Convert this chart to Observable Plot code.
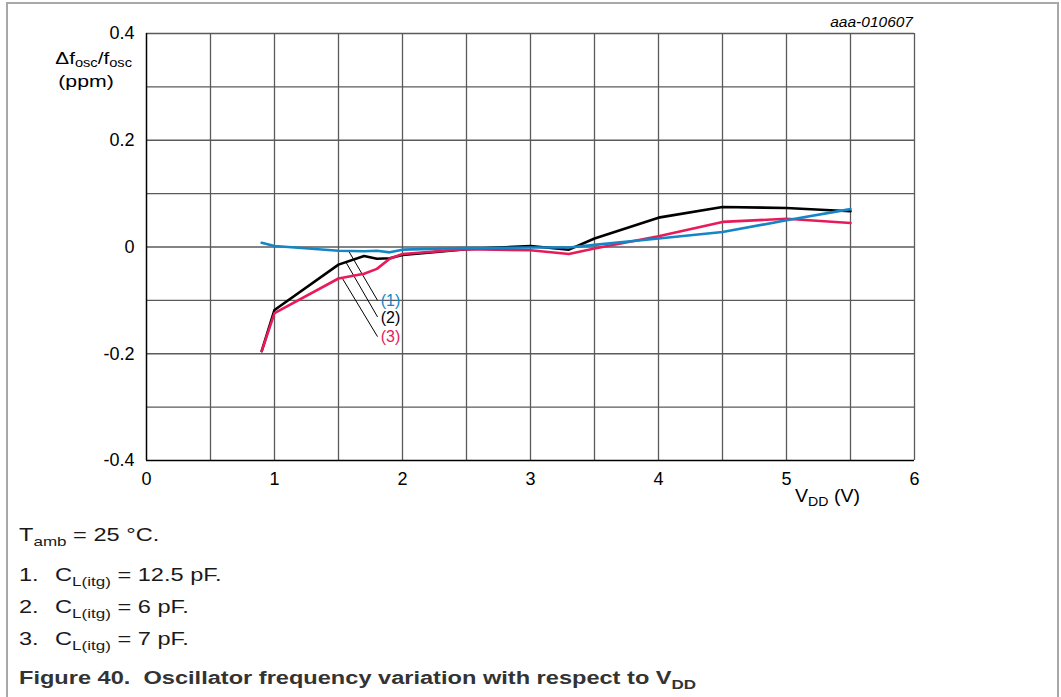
<!DOCTYPE html>
<html>
<head>
<meta charset="utf-8">
<script src="https://cdn.jsdelivr.net/npm/d3@7"></script>
<script src="https://cdn.jsdelivr.net/npm/@observablehq/plot@0.6"></script>
<style>
  html, body { margin: 0; padding: 0; background: #fff; overflow: hidden; }
  body { width: 1061px; height: 697px; position: relative; font-family: "Liberation Sans", Arial, sans-serif; }
  #frame { position: absolute; left: 6px; top: 2px; width: 1053px; height: 760px; border: 2px solid #a8a8a8; box-sizing: border-box; }
  #chart { position: absolute; left: 0; top: 0; }
  .note { position: absolute; left: 19px; font-size: 18px; line-height: 21px; color: #1a1a1a; white-space: pre; transform: scaleX(1.31); transform-origin: 0 0; }
  .note sub { font-size: 13px; vertical-align: -5px; line-height: 0; }
  .note .num { display: inline-block; width: 27.5px; }
  #caption { position: absolute; left: 19px; top: 668px; font-size: 18px; line-height: 21px; font-weight: bold; color: #333; white-space: pre; transform: scaleX(1.31); transform-origin: 0 0; }
  #caption sub { font-size: 13px; vertical-align: -5px; line-height: 0; }
</style>
</head>
<body>
<div id="frame"></div>
<div id="chart"></div>
<div class="note" style="top:525px">T<sub>amb</sub> = 25 °C.</div>
<div class="note" style="top:565px"><span class="num">1.</span>C<sub>L(itg)</sub> = 12.5 pF.</div>
<div class="note" style="top:597px"><span class="num">2.</span>C<sub>L(itg)</sub> = 6 pF.</div>
<div class="note" style="top:629px"><span class="num">3.</span>C<sub>L(itg)</sub> = 7 pF.</div>
<div id="caption">Figure 40.  Oscillator frequency variation with respect to V<sub>DD</sub></div>
<script>
// ---- data ----
const vdd1 = [0.9, 1.0, 1.5, 1.7, 1.8, 1.9, 2.0, 2.5, 3.0, 3.3, 3.5, 4.0, 4.5, 5.0, 5.5];
const dev1 = [0.008, 0.002, -0.007, -0.008, -0.007, -0.010, -0.005, -0.002, -0.001, -0.001, 0.004, 0.016, 0.028, 0.050, 0.071]; // (1) 12.5 pF
const vdd2 = [0.9, 1.0, 1.5, 1.7, 1.8, 1.9, 2.0, 2.5, 3.0, 3.3, 3.5, 4.0, 4.5, 5.0, 5.5];
const dev2 = [-0.195, -0.118, -0.033, -0.017, -0.022, -0.021, -0.015, -0.004, 0.002, -0.005, 0.016, 0.055, 0.075, 0.073, 0.067]; // (2) 6 pF
const vdd3 = [0.9, 1.0, 1.5, 1.7, 1.8, 1.9, 2.0, 2.5, 3.0, 3.3, 3.5, 4.0, 4.5, 5.0, 5.5];
const dev3 = [-0.195, -0.124, -0.059, -0.050, -0.041, -0.022, -0.013, -0.004, -0.006, -0.013, -0.003, 0.020, 0.047, 0.053, 0.045]; // (3) 7 pF

const xTicks = [0, 1, 2, 3, 4, 5, 6];
const yTicks = [-0.4, -0.2, 0, 0.2, 0.4];
const xGrid = [0.5, 1, 1.5, 2, 2.5, 3, 3.5, 4, 4.5, 5, 5.5, 6];
const yGrid = [-0.3, -0.2, -0.1, 0, 0.1, 0.2, 0.3, 0.4];

const seriesLabels = ["(1)", "(2)", "(3)"];
// leader lines: from curve point to label (data coordinates)
const leadX1 = [1.583, 1.557, 1.531];
const leadY1 = [-0.009, -0.028, -0.059];
const leadX2 = [1.805, 1.805, 1.805];
const leadY2 = [-0.100, -0.131, -0.168];
const labelX = [1.83, 1.83, 1.83];
const labelY = [-0.100, -0.133, -0.169];

const colors = ["#1486c6", "#000000", "#e81b5a"];

const toRows = (xs, ys) => xs.map((x, i) => ({x, y: ys[i]}));
const s1 = toRows(vdd1, dev1), s2 = toRows(vdd2, dev2), s3 = toRows(vdd3, dev3);
const leaders = leadX1.map((x, i) => ({x1: x, y1: leadY1[i], x2: leadX2[i], y2: leadY2[i]}));
const labels = seriesLabels.map((t, i) => ({t, x: labelX[i], y: labelY[i], c: colors[i]}));

const plot = Plot.plot({
  width: 1061,
  height: 520,
  marginLeft: 146,
  marginRight: 147,
  marginTop: 33,
  marginBottom: 60,
  style: {fontFamily: "'Liberation Sans', Arial, sans-serif", fontSize: "18px", color: "#000", background: "transparent", overflow: "visible"},
  x: {domain: [0, 6], label: null},
  y: {domain: [-0.4, 0.4], label: null},
  marks: [
    Plot.ruleX(xGrid, {stroke: "#5a5a5a", strokeWidth: 1.3}),
    Plot.ruleY(yGrid, {stroke: "#5a5a5a", strokeWidth: 1.3}),
    Plot.ruleX([0], {stroke: "#000", strokeWidth: 1.5}),
    Plot.ruleY([-0.4], {stroke: "#000", strokeWidth: 1.5}),
    Plot.link(leaders, {x1: "x1", y1: "y1", x2: "x2", y2: "y2", stroke: "#000", strokeWidth: 1}),
    Plot.line(s2, {x: "x", y: "y", stroke: colors[1], strokeWidth: 2.6}),
    Plot.line(s3, {x: "x", y: "y", stroke: colors[2], strokeWidth: 2.6}),
    Plot.line(s1, {x: "x", y: "y", stroke: colors[0], strokeWidth: 2.6}),
    Plot.text(labels, {x: "x", y: "y", text: "t", fill: "c", textAnchor: "start", fontSize: 16}),
    Plot.axisX({ticks: xTicks, tickSize: 0, tickPadding: 12, tickFormat: d => String(d), fontSize: 18}),
    Plot.axisY({ticks: yTicks, tickSize: 0, tickPadding: 12, tickFormat: d => String(d), fontSize: 18})
  ]
});
document.getElementById("chart").appendChild(plot);

const svg = d3.select(plot);
// y-axis label
const yl = svg.append("text").attr("transform", "translate(132,64) scale(1.22,1)").attr("text-anchor", "end")
  .attr("font-size", 17).attr("fill", "#000");
yl.append("tspan").text("Δf");
yl.append("tspan").attr("dy", 3).attr("font-size", 12).text("osc");
yl.append("tspan").attr("dy", -3).text("/f");
yl.append("tspan").attr("dy", 3).attr("font-size", 12).text("osc");
svg.append("text").attr("transform", "translate(86,87) scale(1.25,1)").attr("text-anchor", "middle")
  .attr("font-size", 17).attr("fill", "#000").text("(ppm)");
// x-axis label
const xl = svg.append("text").attr("transform", "translate(795,502) scale(1.09,1)").attr("text-anchor", "start")
  .attr("font-size", 18).attr("fill", "#000");
xl.append("tspan").text("V");
xl.append("tspan").attr("dy", 4).attr("font-size", 13).text("DD");
xl.append("tspan").attr("dy", -4).text(" (V)");
// figure code
svg.append("text").attr("x", 913).attr("y", 27).attr("text-anchor", "end")
  .attr("font-size", 15.5).attr("font-style", "italic").attr("fill", "#000").text("aaa-010607");
</script>
</body>
</html>
